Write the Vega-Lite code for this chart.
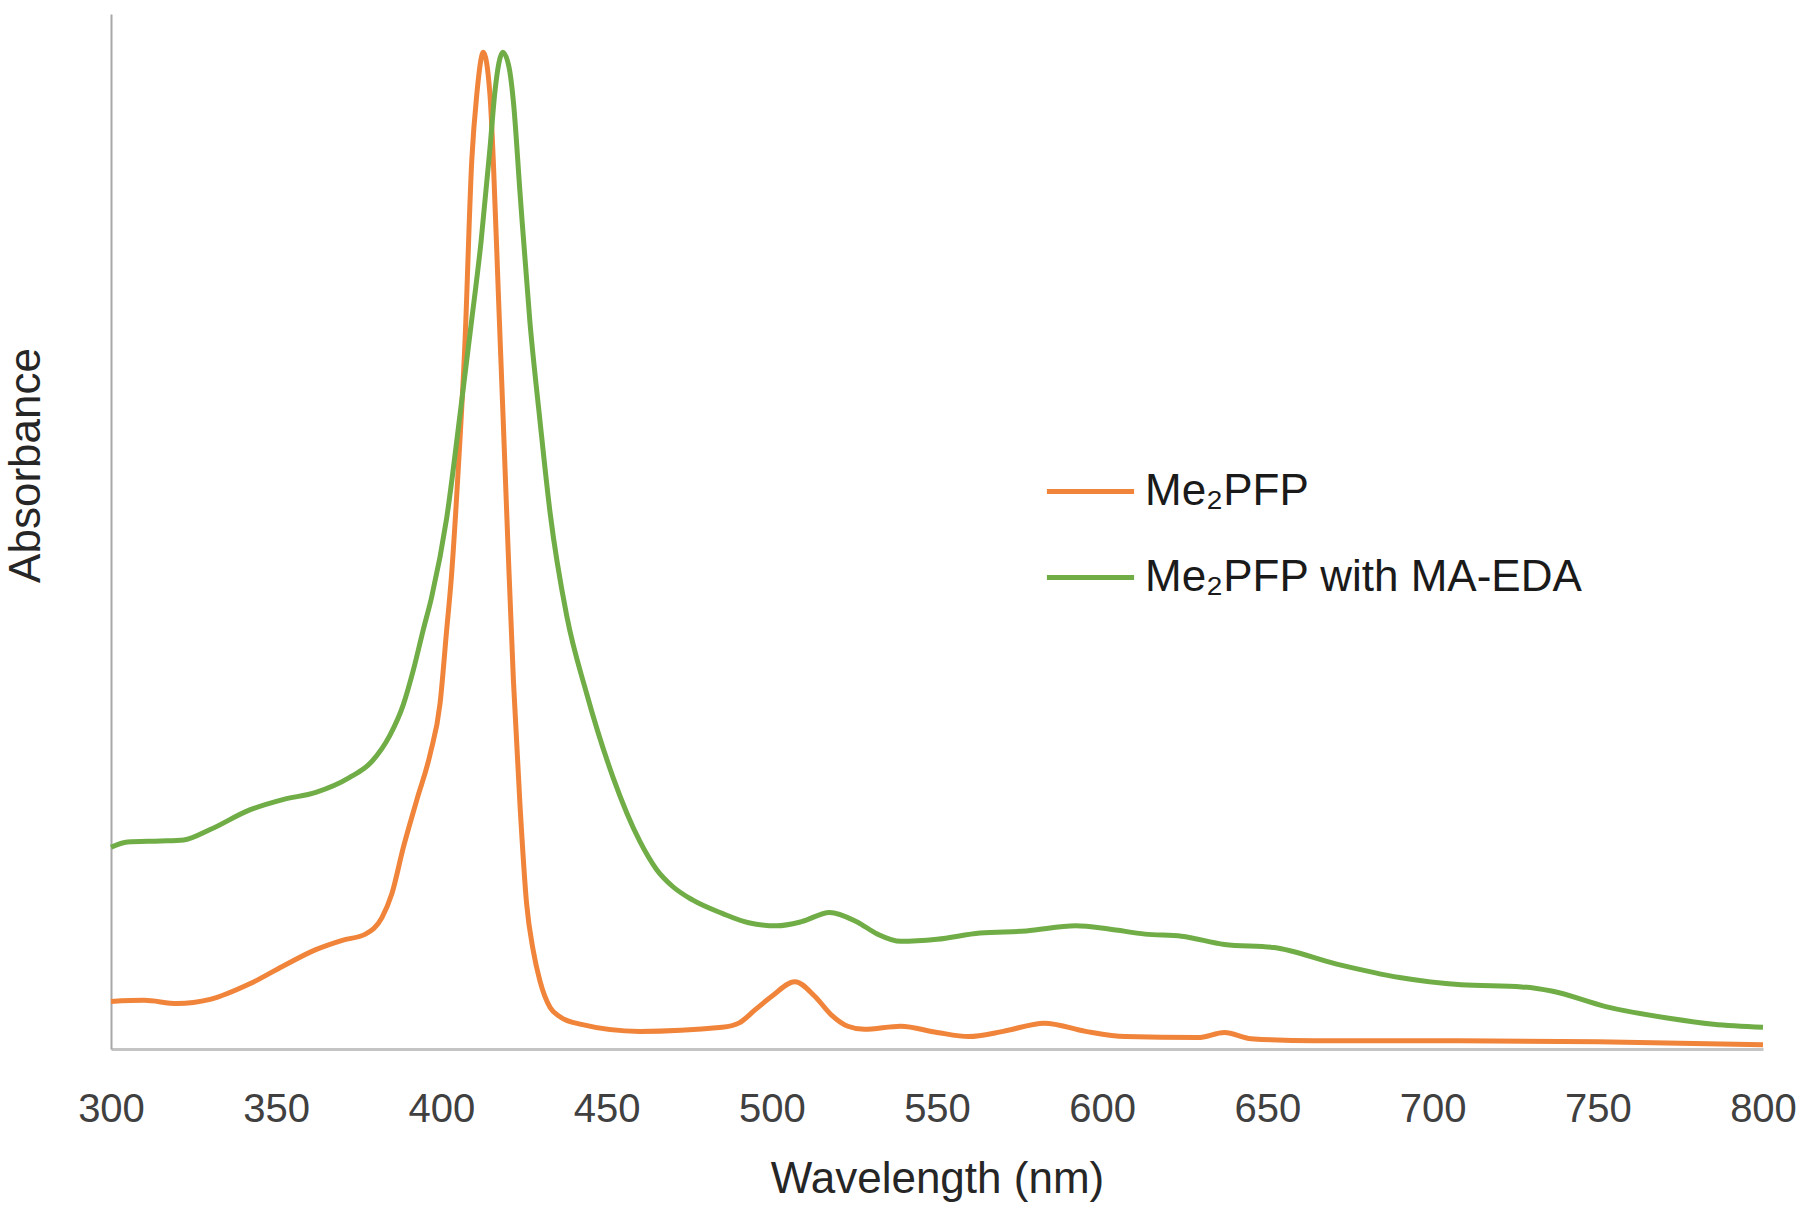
{
  "$schema": "https://vega.github.io/schema/vega-lite/v6.json",
  "width": 1652,
  "height": 1035,
  "autosize": {"type": "none"},
  "padding": {"left": 111, "top": 14, "right": 37, "bottom": 175},
  "background": "white",
  "config": {"view": {"stroke": null}},
  "datasets": {
    "spec": [
      {"nm": 300, "A": 0.046, "s": "Me₂PFP"},
      {"nm": 310, "A": 0.047, "s": "Me₂PFP"},
      {"nm": 320, "A": 0.044, "s": "Me₂PFP"},
      {"nm": 330, "A": 0.048, "s": "Me₂PFP"},
      {"nm": 342, "A": 0.063, "s": "Me₂PFP"},
      {"nm": 352, "A": 0.080, "s": "Me₂PFP"},
      {"nm": 362, "A": 0.096, "s": "Me₂PFP"},
      {"nm": 370, "A": 0.105, "s": "Me₂PFP"},
      {"nm": 377, "A": 0.111, "s": "Me₂PFP"},
      {"nm": 382, "A": 0.127, "s": "Me₂PFP"},
      {"nm": 385, "A": 0.150, "s": "Me₂PFP"},
      {"nm": 388.5, "A": 0.195, "s": "Me₂PFP"},
      {"nm": 392.5, "A": 0.240, "s": "Me₂PFP"},
      {"nm": 396.6, "A": 0.285, "s": "Me₂PFP"},
      {"nm": 399.6, "A": 0.334, "s": "Me₂PFP"},
      {"nm": 401.6, "A": 0.405, "s": "Me₂PFP"},
      {"nm": 403, "A": 0.455, "s": "Me₂PFP"},
      {"nm": 405.1, "A": 0.560, "s": "Me₂PFP"},
      {"nm": 407.1, "A": 0.680, "s": "Me₂PFP"},
      {"nm": 409.2, "A": 0.859, "s": "Me₂PFP"},
      {"nm": 410.7, "A": 0.922, "s": "Me₂PFP"},
      {"nm": 412.7, "A": 0.963, "s": "Me₂PFP"},
      {"nm": 414.7, "A": 0.922, "s": "Me₂PFP"},
      {"nm": 415.7, "A": 0.859, "s": "Me₂PFP"},
      {"nm": 417.2, "A": 0.733, "s": "Me₂PFP"},
      {"nm": 418.7, "A": 0.608, "s": "Me₂PFP"},
      {"nm": 420.2, "A": 0.482, "s": "Me₂PFP"},
      {"nm": 421.8, "A": 0.356, "s": "Me₂PFP"},
      {"nm": 423.8, "A": 0.235, "s": "Me₂PFP"},
      {"nm": 425.8, "A": 0.140, "s": "Me₂PFP"},
      {"nm": 427.8, "A": 0.095, "s": "Me₂PFP"},
      {"nm": 429.8, "A": 0.066, "s": "Me₂PFP"},
      {"nm": 432.9, "A": 0.040, "s": "Me₂PFP"},
      {"nm": 436, "A": 0.031, "s": "Me₂PFP"},
      {"nm": 442, "A": 0.024, "s": "Me₂PFP"},
      {"nm": 460, "A": 0.017, "s": "Me₂PFP"},
      {"nm": 485, "A": 0.021, "s": "Me₂PFP"},
      {"nm": 490, "A": 0.025, "s": "Me₂PFP"},
      {"nm": 495, "A": 0.038, "s": "Me₂PFP"},
      {"nm": 500, "A": 0.051, "s": "Me₂PFP"},
      {"nm": 507, "A": 0.065, "s": "Me₂PFP"},
      {"nm": 513, "A": 0.051, "s": "Me₂PFP"},
      {"nm": 518, "A": 0.033, "s": "Me₂PFP"},
      {"nm": 523, "A": 0.022, "s": "Me₂PFP"},
      {"nm": 528, "A": 0.019, "s": "Me₂PFP"},
      {"nm": 539, "A": 0.022, "s": "Me₂PFP"},
      {"nm": 550, "A": 0.016, "s": "Me₂PFP"},
      {"nm": 559.6, "A": 0.012, "s": "Me₂PFP"},
      {"nm": 570, "A": 0.017, "s": "Me₂PFP"},
      {"nm": 582.5, "A": 0.025, "s": "Me₂PFP"},
      {"nm": 595, "A": 0.017, "s": "Me₂PFP"},
      {"nm": 607, "A": 0.012, "s": "Me₂PFP"},
      {"nm": 629, "A": 0.011, "s": "Me₂PFP"},
      {"nm": 637, "A": 0.016, "s": "Me₂PFP"},
      {"nm": 645, "A": 0.010, "s": "Me₂PFP"},
      {"nm": 664, "A": 0.008, "s": "Me₂PFP"},
      {"nm": 700, "A": 0.008, "s": "Me₂PFP"},
      {"nm": 750, "A": 0.007, "s": "Me₂PFP"},
      {"nm": 800, "A": 0.004, "s": "Me₂PFP"},
      {"nm": 300, "A": 0.195, "s": "Me₂PFP with MA-EDA"},
      {"nm": 305, "A": 0.200, "s": "Me₂PFP with MA-EDA"},
      {"nm": 315, "A": 0.201, "s": "Me₂PFP with MA-EDA"},
      {"nm": 322, "A": 0.202, "s": "Me₂PFP with MA-EDA"},
      {"nm": 330, "A": 0.212, "s": "Me₂PFP with MA-EDA"},
      {"nm": 342, "A": 0.231, "s": "Me₂PFP with MA-EDA"},
      {"nm": 352, "A": 0.241, "s": "Me₂PFP with MA-EDA"},
      {"nm": 362, "A": 0.248, "s": "Me₂PFP with MA-EDA"},
      {"nm": 372, "A": 0.262, "s": "Me₂PFP with MA-EDA"},
      {"nm": 379, "A": 0.278, "s": "Me₂PFP with MA-EDA"},
      {"nm": 384.4, "A": 0.303, "s": "Me₂PFP with MA-EDA"},
      {"nm": 388.5, "A": 0.333, "s": "Me₂PFP with MA-EDA"},
      {"nm": 391.5, "A": 0.366, "s": "Me₂PFP with MA-EDA"},
      {"nm": 394.5, "A": 0.405, "s": "Me₂PFP with MA-EDA"},
      {"nm": 397, "A": 0.436, "s": "Me₂PFP with MA-EDA"},
      {"nm": 401.6, "A": 0.513, "s": "Me₂PFP with MA-EDA"},
      {"nm": 405.6, "A": 0.612, "s": "Me₂PFP with MA-EDA"},
      {"nm": 409, "A": 0.700, "s": "Me₂PFP with MA-EDA"},
      {"nm": 412, "A": 0.780, "s": "Me₂PFP with MA-EDA"},
      {"nm": 414.7, "A": 0.870, "s": "Me₂PFP with MA-EDA"},
      {"nm": 416.2, "A": 0.925, "s": "Me₂PFP with MA-EDA"},
      {"nm": 418.6, "A": 0.963, "s": "Me₂PFP with MA-EDA"},
      {"nm": 420.5, "A": 0.948, "s": "Me₂PFP with MA-EDA"},
      {"nm": 421.8, "A": 0.915, "s": "Me₂PFP with MA-EDA"},
      {"nm": 423.8, "A": 0.827, "s": "Me₂PFP with MA-EDA"},
      {"nm": 426.8, "A": 0.702, "s": "Me₂PFP with MA-EDA"},
      {"nm": 429.8, "A": 0.608, "s": "Me₂PFP with MA-EDA"},
      {"nm": 432.9, "A": 0.518, "s": "Me₂PFP with MA-EDA"},
      {"nm": 437.9, "A": 0.419, "s": "Me₂PFP with MA-EDA"},
      {"nm": 444, "A": 0.343, "s": "Me₂PFP with MA-EDA"},
      {"nm": 452, "A": 0.262, "s": "Me₂PFP with MA-EDA"},
      {"nm": 460, "A": 0.201, "s": "Me₂PFP with MA-EDA"},
      {"nm": 465, "A": 0.174, "s": "Me₂PFP with MA-EDA"},
      {"nm": 470, "A": 0.157, "s": "Me₂PFP with MA-EDA"},
      {"nm": 476, "A": 0.144, "s": "Me₂PFP with MA-EDA"},
      {"nm": 485, "A": 0.131, "s": "Me₂PFP with MA-EDA"},
      {"nm": 493, "A": 0.122, "s": "Me₂PFP with MA-EDA"},
      {"nm": 501.5, "A": 0.119, "s": "Me₂PFP with MA-EDA"},
      {"nm": 509, "A": 0.123, "s": "Me₂PFP with MA-EDA"},
      {"nm": 517.5, "A": 0.132, "s": "Me₂PFP with MA-EDA"},
      {"nm": 525.7, "A": 0.123, "s": "Me₂PFP with MA-EDA"},
      {"nm": 532, "A": 0.111, "s": "Me₂PFP with MA-EDA"},
      {"nm": 539, "A": 0.104, "s": "Me₂PFP with MA-EDA"},
      {"nm": 550, "A": 0.106, "s": "Me₂PFP with MA-EDA"},
      {"nm": 563, "A": 0.112, "s": "Me₂PFP with MA-EDA"},
      {"nm": 577, "A": 0.114, "s": "Me₂PFP with MA-EDA"},
      {"nm": 592, "A": 0.119, "s": "Me₂PFP with MA-EDA"},
      {"nm": 602, "A": 0.116, "s": "Me₂PFP with MA-EDA"},
      {"nm": 613, "A": 0.111, "s": "Me₂PFP with MA-EDA"},
      {"nm": 624, "A": 0.109, "s": "Me₂PFP with MA-EDA"},
      {"nm": 637, "A": 0.101, "s": "Me₂PFP with MA-EDA"},
      {"nm": 652, "A": 0.098, "s": "Me₂PFP with MA-EDA"},
      {"nm": 671, "A": 0.082, "s": "Me₂PFP with MA-EDA"},
      {"nm": 690, "A": 0.069, "s": "Me₂PFP with MA-EDA"},
      {"nm": 708.6, "A": 0.062, "s": "Me₂PFP with MA-EDA"},
      {"nm": 727, "A": 0.060, "s": "Me₂PFP with MA-EDA"},
      {"nm": 736, "A": 0.056, "s": "Me₂PFP with MA-EDA"},
      {"nm": 752.4, "A": 0.041, "s": "Me₂PFP with MA-EDA"},
      {"nm": 771, "A": 0.030, "s": "Me₂PFP with MA-EDA"},
      {"nm": 785, "A": 0.024, "s": "Me₂PFP with MA-EDA"},
      {"nm": 800, "A": 0.021, "s": "Me₂PFP with MA-EDA"}
    ]
  },
  "data": {"name": "spec"},
  "mark": {"type": "line", "interpolate": "monotone", "strokeWidth": 5},
  "encoding": {
    "x": {
      "field": "nm",
      "type": "quantitative",
      "scale": {"domain": [300, 800], "nice": false, "zero": false},
      "axis": {
        "values": [300, 350, 400, 450, 500, 550, 600, 650, 700, 750, 800],
        "grid": false,
        "ticks": false,
        "tickSize": 0,
        "domainColor": "#c4c4c4",
        "domainWidth": 3,
        "labelFont": "Liberation Sans, Arial, sans-serif",
        "labelFontSize": 40,
        "labelColor": "#404040",
        "labelPadding": 60,
        "labelBaseline": "middle",
        "labelFlush": false,
        "labelOverlap": false,
        "title": "Wavelength (nm)",
        "titleFont": "Liberation Sans, Arial, sans-serif",
        "titleFontSize": 44,
        "titleFontWeight": "normal",
        "titleColor": "#262626",
        "titleX": 826,
        "titleY": 130,
        "titleBaseline": "middle",
        "titleAlign": "center"
      }
    },
    "y": {
      "field": "A",
      "type": "quantitative",
      "scale": {"domain": [0, 1], "nice": false},
      "axis": {
        "grid": false,
        "ticks": false,
        "tickSize": 0,
        "labels": false,
        "domainColor": "#a8a8a8",
        "domainWidth": 2,
        "title": "Absorbance",
        "titleFont": "Liberation Sans, Arial, sans-serif",
        "titleFontSize": 44,
        "titleFontWeight": "normal",
        "titleColor": "#262626",
        "titleAngle": -90,
        "titleX": -85,
        "titleY": 451,
        "titleBaseline": "middle",
        "titleAlign": "center"
      }
    },
    "color": {
      "field": "s",
      "type": "nominal",
      "scale": {"domain": ["Me₂PFP", "Me₂PFP with MA-EDA"], "range": ["#F0843A", "#70AD47"]},
      "legend": {
        "orient": "none",
        "legendX": 933,
        "legendY": 431,
        "padding": 0,
        "title": null,
        "symbolType": "stroke",
        "symbolSize": 7600,
        "symbolStrokeWidth": 5,
        "labelFont": "Liberation Sans, Arial, sans-serif",
        "labelFontSize": 44,
        "labelColor": "#1a1a1a",
        "labelOffset": 8,
        "labelLimit": 0,
        "rowPadding": 17
      }
    }
  }
}
